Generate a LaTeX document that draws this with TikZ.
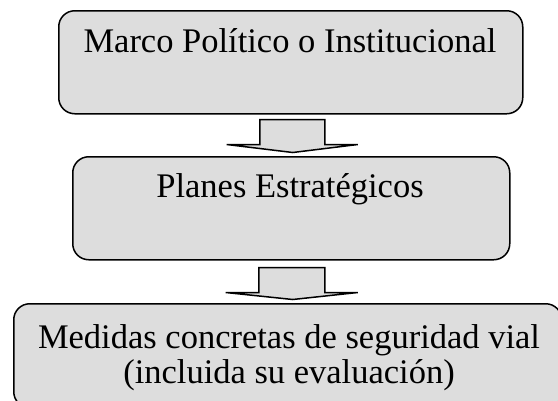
\documentclass[tikz,border=0pt]{standalone}
\usepackage{fontspec}
\setmainfont{Liberation Serif}
\usetikzlibrary{calc}
\definecolor{gris}{RGB}{221,221,221}
\tikzset{
caja/.style={draw, line width=1.5pt, fill=gris, rounded corners=16pt, anchor=north west, inner sep=0pt},
texto/.style={anchor=base, inner sep=0pt, font=\fontsize{34.5}{40}\selectfont},
flecha/.style={draw, line width=1.5pt, fill=gris, line join=miter}
}
\begin{document}
\begin{tikzpicture}[x=1pt,y=-1pt]
\useasboundingbox (0,0) rectangle (558,400);
\clip (0,0) rectangle (558,400);

\node[caja, minimum width=464pt, minimum height=103pt](marco) at (58,10){};
\node[caja, minimum width=437pt, minimum height=103pt](planes) at (72,156){};
\node[caja, minimum width=548pt, minimum height=104pt](medidas) at (13,303){};

\node[texto](tmarco) at (290,52) {Marco Político o Institucional};
\node[texto](tplanes) at (290,197) {Planes Estratégicos};
\node[texto](tmedidas) at (289,348) {Medidas concretas de seguridad vial};
\node[texto](teval) at (289,383) {(incluida su evaluación)};

% flechas
\draw[flecha] ($(marco.south)+(-31,5)$) -- ++(0,25) -- ++(-33,0) -- ($(marco.south)+(2,38)$)
  -- ++(65,-8) -- ++(-33,0) -- ++(0,-25) -- cycle;
\draw[flecha] ($(planes.south)+(-32.5,7)$) -- ++(0,25) -- ++(-33,0) -- ($(planes.south)+(1.5,39)$)
  -- ++(65,-7) -- ++(-33,0) -- ++(0,-25) -- cycle;

\end{tikzpicture}
\end{document}
